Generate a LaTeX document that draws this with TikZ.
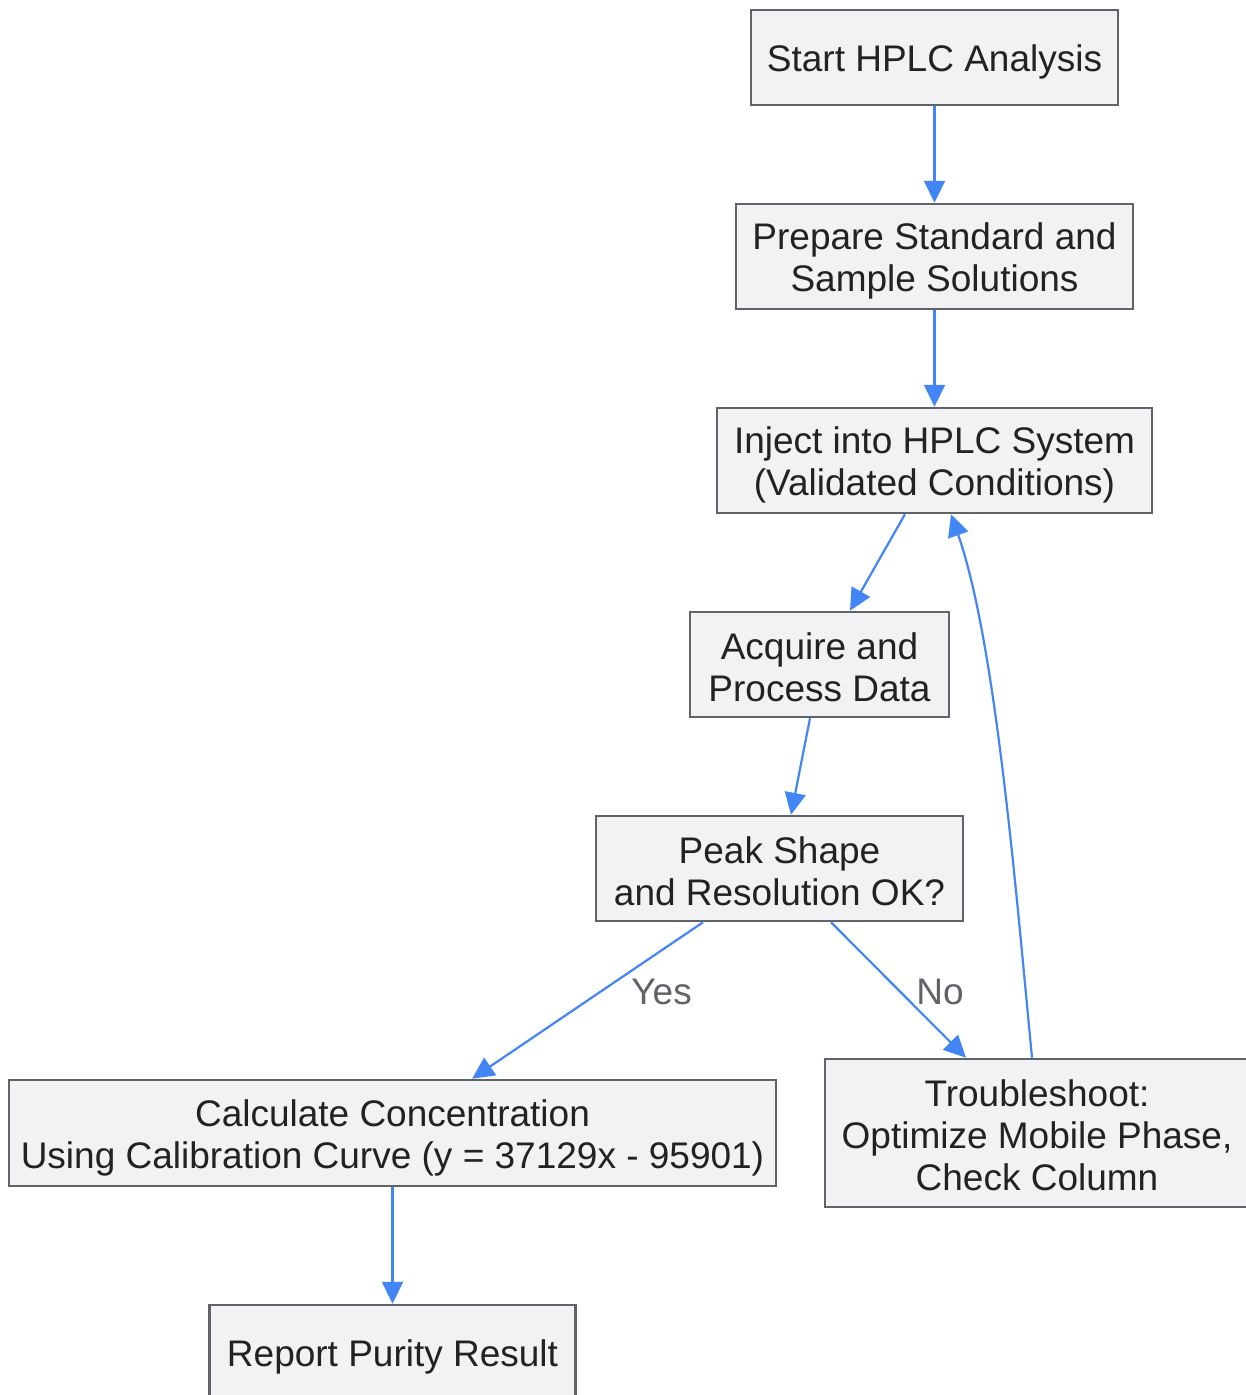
\documentclass[tikz,border=0pt]{standalone}
\usepackage{fontspec}
\setmainfont{Liberation Sans}
\usetikzlibrary{arrows.meta}
\definecolor{boxfill}{HTML}{F1F2F4}
\definecolor{boxline}{HTML}{616368}
\definecolor{arrowblue}{HTML}{4285F4}
\definecolor{txt}{HTML}{222222}
\definecolor{lbl}{HTML}{5F6368}
\begin{document}
\begin{tikzpicture}[x=1pt,y=-1pt,
  box/.style={draw=boxline, fill=boxfill, line width=2.5pt, inner sep=0pt},
  boxtext/.style={inner sep=0pt, align=center, text=txt, font=\fontsize{37}{42}\selectfont},
  conn/.style={draw=arrowblue, line width=2.2pt,
    -{Triangle[length=22pt,width=21pt]}},
  elabel/.style={text=lbl, font=\fontsize{37}{42}\selectfont}]
\useasboundingbox (0,0) rectangle (1246,1395);
\node[box, minimum width=367pt, minimum height=95pt] (start) at (934.5,57.5) {};
\node[boxtext] (startT) at ([yshift=-4pt]start.center) {Start HPLC Analysis};
\node[box, minimum width=397pt, minimum height=105pt] (prep) at (934.5,256.5) {};
\node[boxtext] (prepT) at ([yshift=-4pt]prep.center) {Prepare Standard and\\Sample Solutions};
\node[box, minimum width=435pt, minimum height=105pt] (inject) at (934.5,460.5) {};
\node[boxtext] (injectT) at ([yshift=-4pt]inject.center) {Inject into HPLC System\\(Validated Conditions)};
\node[box, minimum width=259pt, minimum height=105pt] (acq) at (819.5,664.5) {};
\node[boxtext] (acqT) at ([yshift=-3pt]acq.center) {Acquire and\\Process Data};
\node[box, minimum width=367pt, minimum height=105pt] (peak) at (779.5,868.5) {};
\node[boxtext] (peakT) at ([yshift=-3pt]peak.center) {Peak Shape\\and Resolution OK?};
\node[box, minimum width=767pt, minimum height=106pt] (calc) at (392.5,1133) {};
\node[boxtext] (calcT) at ([yshift=-5pt]calc.center) {Calculate Concentration\\Using Calibration Curve (y = 37129x - 95901)};
\node[box, minimum width=424pt, minimum height=148pt] (trouble) at (1037,1133) {};
\node[boxtext] (troubleT) at ([yshift=-2pt]trouble.center) {Troubleshoot:\\Optimize Mobile Phase,\\Check Column};
\node[box, minimum width=366pt, minimum height=95pt] (report) at (392.5,1352.5) {};
\node[boxtext] (reportT) at ([yshift=-4pt]report.center) {Report Purity Result};

\draw[conn] (start.south) -- (prep.north);
\draw[conn] (prep.south) -- (inject.north);
\draw[conn] ([xshift=-29.5pt]inject.south) -- ([xshift=30.5pt]acq.north);
\draw[conn] ([xshift=-9.5pt]acq.south) -- ([xshift=11.5pt]peak.north);
\draw[conn] ([xshift=-76.5pt]peak.south) -- node[elabel, pos=0.4, xshift=51pt, yshift=-7pt] (yes) {Yes} ([xshift=79.5pt]calc.north);
\draw[conn] ([xshift=51.5pt]peak.south) -- node[elabel, pos=0.5, xshift=41.5pt, yshift=-2pt] (no) {No} ([xshift=-71pt]trouble.north);
\draw[conn] ([xshift=-5pt]trouble.north) .. controls (1015,880) and (995,640) .. ([xshift=16.5pt]inject.south);
\draw[conn] (calc.south) -- (report.north);
\end{tikzpicture}
\end{document}
